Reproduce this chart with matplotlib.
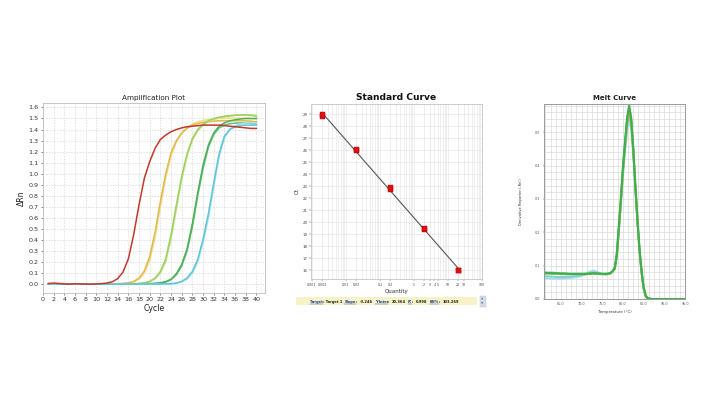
import matplotlib
matplotlib.use("Agg")
import matplotlib.pyplot as plt
from matplotlib.patches import Rectangle
from matplotlib.lines import Line2D
import numpy as np

plt.rcParams['font.family'] = ['DejaVu Sans']

# ---------------- data: amplification plot ----------------
cycles = list(range(1, 41))
amp_red = [0.006,0.010,0.006,0.002,0.000,0.004,0.002,0.001,0.000,0.002,0.005,0.010,0.022,0.050,0.110,0.230,0.450,0.720,0.960,1.110,
           1.230,1.310,1.350,1.380,1.400,1.415,1.425,1.430,1.435,1.440,1.440,1.440,1.440,1.435,1.430,1.425,1.420,1.415,1.410,1.410]
amp_yellow1 = [0.003,0.004,0.002,0.000,0.000,0.001,0.000,0.000,0.000,0.000,0.000,0.001,0.002,0.004,0.007,0.012,0.025,0.055,0.120,0.250,
               0.470,0.750,1.000,1.190,1.300,1.370,1.410,1.440,1.455,1.465,1.470,1.475,1.480,1.480,1.480,1.480,1.480,1.478,1.475,1.470]
amp_yellow2 = [0.002,0.003,0.002,0.001,0.000,0.000,0.000,0.000,0.000,0.000,0.000,0.001,0.002,0.003,0.006,0.010,0.020,0.045,0.100,0.215,
               0.420,0.700,0.960,1.160,1.285,1.365,1.415,1.450,1.470,1.482,1.490,1.495,1.500,1.502,1.503,1.503,1.502,1.500,1.498,1.495]
amp_yg1 = [0.002,0.002,0.001,0.000,0.000,0.000,0.000,0.000,0.000,0.000,0.000,0.000,0.000,0.001,0.002,0.003,0.004,0.006,0.012,0.025,
           0.055,0.115,0.230,0.450,0.720,0.980,1.180,1.320,1.400,1.450,1.480,1.500,1.512,1.520,1.525,1.530,1.532,1.532,1.528,1.520]
amp_yg2 = [0.001,0.002,0.001,0.000,0.000,0.000,0.000,0.000,0.000,0.000,0.000,0.000,0.000,0.001,0.002,0.003,0.004,0.006,0.010,0.021,
           0.048,0.100,0.205,0.410,0.680,0.950,1.160,1.305,1.390,1.440,1.472,1.492,1.505,1.515,1.522,1.527,1.530,1.532,1.533,1.530]
amp_green1 = [0.001,0.001,0.000,0.000,0.000,0.000,0.000,0.000,0.000,0.000,0.000,0.000,0.000,0.000,0.001,0.002,0.002,0.003,0.004,0.005,
              0.007,0.012,0.022,0.045,0.095,0.180,0.320,0.550,0.830,1.080,1.260,1.370,1.430,1.460,1.478,1.488,1.495,1.500,1.500,1.500]
amp_green2 = [0.001,0.001,0.000,0.000,0.000,0.000,0.000,0.000,0.000,0.000,0.000,0.000,0.000,0.000,0.001,0.001,0.002,0.002,0.003,0.004,
              0.006,0.010,0.019,0.040,0.085,0.165,0.300,0.520,0.800,1.050,1.240,1.355,1.415,1.440,1.452,1.458,1.460,1.458,1.455,1.450]
amp_cyan1 = [0.002,0.002,0.001,0.000,0.000,0.000,0.000,0.000,0.000,0.000,0.000,0.000,0.000,0.000,0.000,0.000,0.000,0.000,0.000,0.001,
             0.001,0.001,0.002,0.004,0.010,0.025,0.055,0.115,0.225,0.410,0.640,0.920,1.180,1.340,1.400,1.425,1.435,1.440,1.440,1.440]
amp_cyan2 = [0.001,0.001,0.001,0.000,0.000,0.000,0.000,0.000,0.000,0.000,0.000,0.000,0.000,0.000,0.000,0.000,0.000,0.000,0.000,0.000,
             0.001,0.001,0.002,0.003,0.008,0.020,0.046,0.100,0.200,0.375,0.600,0.880,1.150,1.325,1.400,1.435,1.450,1.458,1.460,1.460]
amp_series = [amp_yellow2, amp_yellow1, amp_yg2, amp_yg1, amp_green2, amp_green1, amp_cyan2, amp_cyan1, amp_red]
amp_colors = ['#efe08a', '#e2b84c', '#c4e08a', '#9fd060', '#5cc08a', '#4fb050', '#a8e0ec', '#5cc6d8', '#c0392b']

# ---------------- data: standard curve ----------------
std_quantity = [0.002, 0.02, 0.2, 2, 20]
std_ct_rep1 = [28.85, 26.02, 22.78, 19.42, 15.98]
std_ct_rep2 = [29.00, 26.08, 22.92, 19.50, 16.02]
std_slope = -3.246
std_yinter = 20.364
std_r2 = 0.998
std_eff = 103.269
std_xticks = [0.001, 0.002, 0.01, 0.02, 0.1, 0.2, 1, 2, 3, 4, 5, 10, 20, 30, 100]
std_xticklabels = ['0.001', '0.002', '0.01', '0.02', '0.1', '0.2', '1', '2', '3', '4', '5', '10', '20', '30', '100']

# ---------------- data: melt curve ----------------
melt_temp = [61,62,63,64,65,66,67,68,69,70,71,72,73,74,75,76,76.5,77,77.5,78,78.5,79,79.5,80,80.5,81,81.5,82,82.5,83,83.5,84,84.5,85,85.5,86,
             87,88,89,90,91,92,93,94,95]
melt_green1 = [0.078,0.078,0.077,0.077,0.076,0.076,0.075,0.075,0.075,0.075,0.075,0.076,0.077,0.076,0.075,0.075,0.076,0.078,0.083,0.092,
               0.130,0.215,0.300,0.395,0.470,0.545,0.582,0.540,0.450,0.340,0.240,0.150,0.085,0.035,0.010,0.002,0,0,0,0,0,0,0,0,0]
melt_green2 = [0.080,0.079,0.079,0.078,0.077,0.077,0.076,0.076,0.076,0.076,0.076,0.077,0.078,0.077,0.076,0.076,0.077,0.079,0.085,0.096,
               0.140,0.225,0.310,0.400,0.475,0.540,0.572,0.535,0.445,0.335,0.235,0.145,0.080,0.032,0.009,0.002,0,0,0,0,0,0,0,0,0]
melt_yg = [0.076,0.076,0.075,0.075,0.075,0.074,0.074,0.074,0.074,0.074,0.074,0.075,0.076,0.075,0.074,0.074,0.075,0.077,0.082,0.090,
           0.125,0.205,0.290,0.385,0.465,0.540,0.575,0.545,0.455,0.345,0.245,0.155,0.088,0.037,0.011,0.002,0,0,0,0,0,0,0,0,0]
melt_orange = [0.077,0.077,0.076,0.076,0.075,0.075,0.075,0.075,0.075,0.075,0.075,0.076,0.077,0.076,0.075,0.075,0.076,0.077,0.082,0.090,
               0.128,0.208,0.292,0.385,0.460,0.528,0.560,0.528,0.440,0.332,0.232,0.142,0.078,0.030,0.008,0.001,0,0,0,0,0,0,0,0,0]
melt_cyan1 = [0.062,0.062,0.061,0.061,0.061,0.062,0.063,0.064,0.066,0.070,0.076,0.082,0.085,0.080,0.075,0.074,0.075,0.077,0.082,0.090,
              0.125,0.200,0.285,0.370,0.440,0.505,0.535,0.510,0.430,0.325,0.228,0.140,0.078,0.030,0.008,0.001,0,0,0,0,0,0,0,0,0]
melt_cyan2 = [0.068,0.068,0.067,0.066,0.066,0.066,0.067,0.068,0.069,0.071,0.074,0.078,0.080,0.078,0.075,0.074,0.075,0.077,0.082,0.090,
              0.126,0.205,0.290,0.378,0.452,0.518,0.550,0.522,0.438,0.330,0.232,0.143,0.080,0.031,0.009,0.001,0,0,0,0,0,0,0,0,0]
melt_series = [melt_cyan1, melt_cyan2, melt_orange, melt_yg, melt_green2, melt_green1]
melt_colors = ['#a6dce6', '#7fd0d8', '#e09a3c', '#9ccc5a', '#5cbf6a', '#3fae4e']

# ---------------- figure ----------------
W, H = 707, 398
fig = plt.figure(figsize=(W / 100, H / 100), dpi=100)
fig.patch.set_facecolor('white')

def ax_px(l, t, r, b):
    return fig.add_axes([l / W, (H - b) / H, (r - l) / W, (b - t) / H])

# ---- Amplification plot ----
ax1 = ax_px(43, 103, 265, 293)
for s, c in zip(amp_series, amp_colors):
    ax1.plot(cycles, s, color=c, lw=1.1, solid_joinstyle='round')
ax1.set_xlim(0, 41.6)
ax1.set_ylim(-0.08, 1.64)
ax1.set_xticks(np.arange(0, 41, 2))
ax1.set_yticks(np.round(np.arange(0, 1.61, 0.1), 1))
ax1.set_yticklabels([f'{v:.1f}' for v in np.arange(0, 1.61, 0.1)])
ax1.tick_params(labelsize=4.6, length=1.5, width=0.4, pad=1.5, colors='#333333')
ax1.grid(True, color='#d4d4d4', lw=0.5, linestyle=(0, (2, 2)))
ax1.set_axisbelow(True)
for sp in ax1.spines.values():
    sp.set_color('#bdbdbd'); sp.set_linewidth(0.6)
ax1.set_title('Amplification Plot', fontsize=5.2, pad=2.5, color='#222222')
ax1.set_xlabel('Cycle', fontsize=5.6, labelpad=1.5, color='#222222')
ax1.set_ylabel('\u0394Rn', fontsize=5.6, labelpad=2, color='#222222')

# ---- Standard curve ----
ax2 = ax_px(311, 104, 482, 279)
ax2.set_xscale('log')
ax2.set_xlim(0.00095, 100)
ax2.set_ylim(15.25, 29.85)
qline = np.array([min(std_quantity), max(std_quantity)])
ax2.plot(qline, std_yinter + std_slope * np.log10(qline), color='#555555', lw=0.8, zorder=3)
ax2.plot(std_quantity, std_ct_rep1, 's', color='#e01010', ms=3.6, mec='#b00000', mew=0.3, zorder=4)
ax2.plot(std_quantity, std_ct_rep2, 's', color='#e01010', ms=3.6, mec='#b00000', mew=0.3, zorder=4)
ax2.set_xticks(std_xticks)
ax2.set_xticklabels(std_xticklabels)
ax2.xaxis.set_minor_formatter(plt.NullFormatter())
ax2.set_yticks(range(16, 30))
ax2.tick_params(labelsize=2.8, length=1.2, width=0.3, pad=1.5, colors='#444444')
ax2.tick_params(axis='x', labelsize=2.3)
ax2.tick_params(which='minor', length=0)
ax2.grid(True, which='both', axis='x', color='#e2e2e2', lw=0.4)
ax2.grid(True, which='major', axis='y', color='#e2e2e2', lw=0.4)
ax2.set_axisbelow(True)
for sp in ax2.spines.values():
    sp.set_color('#c4c4c4'); sp.set_linewidth(0.6)
ax2.set_title('Standard Curve', fontsize=6.6, fontweight='bold', pad=3, color='#111111')
ax2.set_xlabel('Quantity', fontsize=4.0, labelpad=1.5, color='#333333')
ax2.set_ylabel('Ct', fontsize=4.0, labelpad=2, color='#333333')

# status bar under standard curve
fig.patches.append(Rectangle((296 / W, (H - 305) / H), 181 / W, 8 / H, transform=fig.transFigure,
                             facecolor='#f8f3c6', edgecolor='none', zorder=0))
fig.patches.append(Rectangle((479.5 / W, (H - 306.5) / H), 6 / W, 11 / H, transform=fig.transFigure,
                             facecolor='#d6dde9', edgecolor='#b8c2d2', lw=0.3, zorder=1))
fig.text(482.5 / W, (H - 299) / H, '\u25b2', fontsize=2.2, ha='center', va='center', color='#6a7fa3')
fig.text(482.5 / W, (H - 303.5) / H, '\u25bc', fontsize=2.2, ha='center', va='center', color='#6a7fa3')

pieces = [('Target', True), (': Target 1 ', False), ('Slope', True), (': ', False), (f'{std_slope:.3f}', False),
          (' ', False), ('Y-Inter', True), (': ', False), (f'{std_yinter:.3f}', False), (' ', False),
          ('R\u00b2', True), (': ', False), (f'{std_r2:.3f}', False), (' ', False), ('Eff%', True), (': ', False),
          (f'{std_eff:.3f}', False)]
fig.canvas.draw()
renderer = fig.canvas.get_renderer()
xpx = 310.0
ybase = H - 303.0
links = []
for txt, link in pieces:
    t = fig.text(xpx / W, ybase / H, txt, fontsize=2.6, fontweight='bold',
                 color='#1a3f9c' if link else '#222222', ha='left', va='baseline')
    bb = t.get_window_extent(renderer)
    w = bb.width
    if txt.endswith(' '):
        w += 0.9
    if link:
        links.append((xpx, xpx + bb.width))
    xpx += w
for x0, x1 in links:
    fig.add_artist(Line2D([x0 / W, x1 / W], [(ybase - 0.8) / H] * 2, transform=fig.transFigure,
                          color='#1a3f9c', lw=0.3))

# ---- Melt curve ----
ax3 = ax_px(544, 104, 685, 299)
for s, c in zip(melt_series, melt_colors):
    ax3.plot(melt_temp, s, color=c, lw=1.4, solid_joinstyle='round')
ax3.set_xlim(60.9, 95)
ax3.set_ylim(0, 0.585)
ax3.set_xticks([65, 70, 75, 80, 85, 90, 95])
ax3.set_xticklabels(['65.0', '70.0', '75.0', '80.0', '85.0', '90.0', '95.0'])
ax3.set_yticks([0, 0.1, 0.2, 0.3, 0.4, 0.5])
ax3.set_yticklabels(['0.0', '0.1', '0.2', '0.3', '0.4', '0.5'])
ax3.set_xticks(np.arange(61.25, 95, 1.25), minor=True)
ax3.set_yticks(np.arange(0, 0.585, 0.02), minor=True)
ax3.tick_params(labelsize=2.4, length=1.0, width=0.3, pad=1.5, colors='#555555')
ax3.tick_params(which='minor', length=0)
ax3.grid(True, which='both', color='#d6d6d6', lw=0.45)
ax3.set_axisbelow(True)
for sp in ax3.spines.values():
    sp.set_color('#9a9a9a'); sp.set_linewidth(0.7)
ax3.set_title('Melt Curve', fontsize=5.0, fontweight='bold', pad=3, color='#222222')
ax3.set_xlabel('Temperature (\u00b0C)', fontsize=2.8, labelpad=2.5, color='#333333')
ax3.set_ylabel("Derivative Reporter (-Rn')", fontsize=2.6, labelpad=9, color='#333333')

fig.savefig('out.png', dpi=100)
